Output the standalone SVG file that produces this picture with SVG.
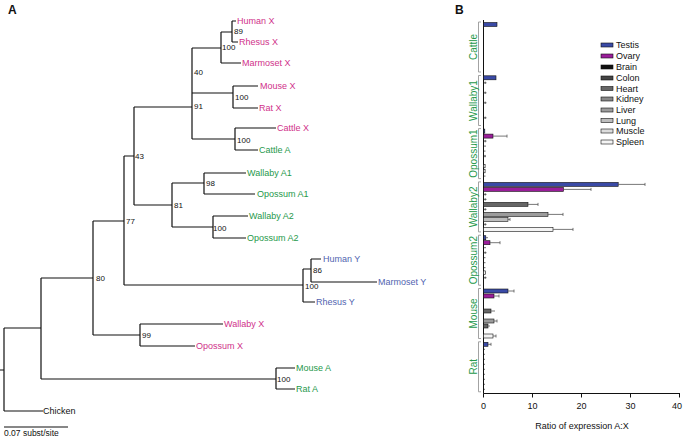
<svg xmlns="http://www.w3.org/2000/svg" width="685" height="438" viewBox="0 0 685 438">
<style>
text{font-family:"Liberation Sans",Arial,sans-serif}
.lbl{font-size:9px;dominant-baseline:central}
.x{fill:#d0318a}.a{fill:#26994b}.y{fill:#5264b0}.k{fill:#111}
.bs{font-size:8px;fill:#111;dominant-baseline:central}
.br{fill:none;stroke:#111;stroke-width:1.2}
.bar{stroke:#111;stroke-width:0.6}
.err{stroke:#555;stroke-width:0.8;fill:none}
.mk{stroke:#444;stroke-width:0.8;fill:none}
.grp{font-size:10px;fill:#26994b;text-anchor:middle;dominant-baseline:central}
.bk{fill:none;stroke:#999;stroke-width:0.9}
.t{fill:#3a4aa6}.o{fill:#9a1d9a}.b{fill:#111}.c{fill:#444}.h{fill:#666}.kd{fill:#888}.lv{fill:#9c9c9c}.lu{fill:#bdbdbd}.mu{fill:#dcdcdc}.sp{fill:#f4f4f4}
.ax{stroke:#111;stroke-width:1;fill:none}
.tk{font-size:9px;fill:#111;text-anchor:middle}
</style>
<text x="8" y="14" font-size="12" font-weight="bold" fill="#111">A</text>
<text x="455" y="14" font-size="12" font-weight="bold" fill="#111">B</text>

<g id="connectors">
<path class="br" d="M0,370H4M4,328V411M4,328H41M4,411H43
M41,278V379M41,278H93M41,379H276
M276,368V389M276,368H295M276,389H295
M93,221V335M93,221H124M93,335H140
M140,324V346M140,324H223M140,346H195
M124,156V285M124,156H134M124,285H303
M303,269V302M303,269H311M303,302H315
M311,259V282M311,259H321M311,282H377
M134,107V205M134,107H192M134,205H172
M172,183V227M172,183H204M172,227H213
M204,173V194M204,173H246M204,194H255
M213,216V238M213,216H248M213,238H246
M192,48V139M192,48H221M192,93H233M192,139H235
M221,32V63M221,32H232M221,63H241
M232,21V42M232,21H236M232,42H238
M233,86V108M233,86H258M233,108H258
M235,128V150M235,128H276M235,150H258"/>
<path class="br" d="M4,427H68"/>
</g>

<g id="tree-labels">
<text class="lbl x" x="237" y="21">Human X</text>
<text class="lbl x" x="239" y="42">Rhesus X</text>
<text class="lbl x" x="242" y="63">Marmoset X</text>
<text class="lbl x" x="260" y="86">Mouse X</text>
<text class="lbl x" x="259" y="108">Rat X</text>
<text class="lbl x" x="277" y="128">Cattle X</text>
<text class="lbl a" x="259" y="150">Cattle A</text>
<text class="lbl a" x="247" y="173">Wallaby A1</text>
<text class="lbl a" x="257" y="194">Opossum A1</text>
<text class="lbl a" x="249" y="216">Wallaby A2</text>
<text class="lbl a" x="247" y="238">Opossum A2</text>
<text class="lbl y" x="323" y="259">Human Y</text>
<text class="lbl y" x="378" y="282">Marmoset Y</text>
<text class="lbl y" x="316" y="302">Rhesus Y</text>
<text class="lbl x" x="224" y="324">Wallaby X</text>
<text class="lbl x" x="196" y="346">Opossum X</text>
<text class="lbl a" x="296" y="368">Mouse A</text>
<text class="lbl a" x="296" y="389">Rat A</text>
<text class="lbl k" x="43" y="411">Chicken</text>
<text x="4" y="436" font-size="8.5" fill="#111">0.07 subst/site</text>
</g>

<g id="bootstrap">
<text class="bs" x="234" y="31">89</text>
<text class="bs" x="222" y="47">100</text>
<text class="bs" x="194" y="72">40</text>
<text class="bs" x="194" y="106">91</text>
<text class="bs" x="235" y="97">100</text>
<text class="bs" x="237" y="140">100</text>
<text class="bs" x="135" y="156">43</text>
<text class="bs" x="206" y="183">98</text>
<text class="bs" x="174" y="205">81</text>
<text class="bs" x="213" y="228">100</text>
<text class="bs" x="126" y="221">77</text>
<text class="bs" x="96" y="278">80</text>
<text class="bs" x="313" y="270">86</text>
<text class="bs" x="305" y="286">100</text>
<text class="bs" x="142" y="335">99</text>
<text class="bs" x="277" y="379">100</text>
</g>

<g id="chart-axes">
<path class="ax" d="M483.5,20V393.5H680"/>
<path class="ax" d="M483.5,393.5v4M532.5,393.5v4M581.5,393.5v4M630.5,393.5v4M679.5,393.5v4"/>
<text class="tk" x="483.5" y="409">0</text>
<text class="tk" x="532.5" y="409">10</text>
<text class="tk" x="581.5" y="409">20</text>
<text class="tk" x="630.5" y="409">30</text>
<text class="tk" x="677" y="409">40</text>
<text class="tk" x="582" y="429">Ratio of expression A:X</text>
</g>

<g id="group-cattle">
<path class="bk" d="M481,22H478.5V72H481"/>
<text class="grp" transform="translate(473,47) rotate(-90)">Cattle</text>
<rect class="bar t" x="483.5" y="22.5" width="13.5" height="4"/>
</g>

<g id="group-wallaby1">
<path class="bk" d="M481,75.5H478.5V125.5H481"/>
<text class="grp" transform="translate(473,100.5) rotate(-90)">Wallaby1</text>
<rect class="bar t" x="483.5" y="75.8" width="12.5" height="4"/>
<path class="mk" d="M484,82.8h2.5M485.2,81.6v2.4M484,92.8h2.5M485.2,91.6v2.4M484,102.8h2.5M485.2,101.6v2.4M484,117.8h2.5M485.2,116.6v2.4"/>
</g>

<g id="group-opossum1">
<path class="bk" d="M481,128.6H478.5V178.6H481"/>
<text class="grp" transform="translate(473,153.6) rotate(-90)">Opossum1</text>
<rect class="bar t" x="483.5" y="129.1" width="1.3" height="4"/>
<rect class="bar o" x="483.5" y="134.1" width="9.5" height="4"/>
<path class="err" d="M493,136.1H507M507,134.6v3"/>
<path class="mk" d="M484,141.1h2.5M485.2,139.9v2.4M484,146.1h2M484,151.1h1.5M484,156.1h2M485,154.9v2.4"/>
<rect class="bar sp" x="483.5" y="164.3" width="1.6" height="3.5"/>
<rect class="bar sp" x="483.5" y="169.3" width="1.6" height="3.5"/>
<path class="mk" d="M484,176.1h1.5"/>
</g>

<g id="group-wallaby2">
<path class="bk" d="M481,181.9H478.5V231.9H481"/>
<text class="grp" transform="translate(473,206.9) rotate(-90)">Wallaby2</text>
<rect class="bar t" x="483.5" y="182.4" width="134.7" height="4"/>
<path class="err" d="M618,184.4H645M645,182.9v3"/>
<rect class="bar o" x="483.5" y="187.4" width="80" height="4"/>
<path class="err" d="M563.5,189.4H591M591,187.9v3"/>
<path class="mk" d="M484,194.4h2.5M485.2,193.2v2.4M484,199.4h2.5M485.2,198.2v2.4"/>
<rect class="bar h" x="483.5" y="202.4" width="44.5" height="4"/>
<path class="err" d="M528,204.4H538M538,202.9v3"/>
<path class="mk" d="M484,209.4h2.5M485.2,208.2v2.4"/>
<rect class="bar lv" x="483.5" y="212.4" width="64.5" height="4"/>
<path class="err" d="M548,214.4H563M563,212.9v3"/>
<rect class="bar lu" x="483.5" y="217.4" width="24.5" height="4"/>
<path class="err" d="M508,219.4H510M510,217.9v3"/>
<path class="mk" d="M484,224.4h2.5M485.2,223.2v2.4"/>
<rect class="bar sp" x="483.5" y="227.4" width="69.5" height="4"/>
<path class="err" d="M553,229.4H573M573,227.9v3"/>
</g>

<g id="group-opossum2">
<path class="bk" d="M481,235.2H478.5V285.2H481"/>
<text class="grp" transform="translate(473,260.2) rotate(-90)">Opossum2</text>
<rect class="bar t" x="483.5" y="235.7" width="2.3" height="4"/>
<path class="err" d="M486,237.7H488"/>
<rect class="bar o" x="483.5" y="240.7" width="6.5" height="4"/>
<path class="err" d="M490,242.7H500M500,241.2v3"/>
<path class="mk" d="M484,247.7h2M484,252.7h2.5M485.2,251.5v2.4M484,257.7h1.5M484,262.7h1.5M484,267.7h1.5"/>
<rect class="bar sp" x="483.5" y="270.9" width="2" height="3.5"/>
<path class="mk" d="M484,277.7h2.5M485.2,276.5v2.4"/>
</g>

<g id="group-mouse">
<path class="bk" d="M481,288.5H478.5V338.5H481"/>
<text class="grp" transform="translate(473,313.5) rotate(-90)">Mouse</text>
<rect class="bar t" x="483.5" y="289" width="24.5" height="4"/>
<path class="err" d="M508,291H514M514,289.5v3"/>
<rect class="bar o" x="483.5" y="294" width="10.5" height="4"/>
<path class="err" d="M494,296H499M499,294.5v3"/>
<rect class="bar h" x="483.5" y="309" width="7.5" height="4"/>
<path class="err" d="M491,311H495"/>
<rect class="bar lv" x="483.5" y="319" width="10.5" height="4"/>
<path class="err" d="M494,321H497M497,319.5v3"/>
<rect class="bar h" x="483.5" y="324" width="4.5" height="4"/>
<path class="err" d="M488,326H490"/>
<rect class="bar sp" x="483.5" y="334" width="9.5" height="4"/>
<path class="err" d="M493,336H496M496,334.5v3"/>
</g>

<g id="group-rat">
<path class="bk" d="M481,341.8H478.5V391.8H481"/>
<text class="grp" transform="translate(473,366.8) rotate(-90)">Rat</text>
<rect class="bar t" x="483.5" y="342.3" width="4.5" height="4"/>
<path class="err" d="M488,344.3H491M491,342.8v3"/>
<path class="mk" d="M484,349.3h1M484,354.3h1M484,359.3h1M484,364.3h1M484,369.3h1M484,374.3h1M484,379.3h1M484,384.3h1M484,389.3h1"/>
</g>

<g id="legend">
<rect class="bar t" x="601" y="43" width="12" height="4"/><text class="lbl k" x="616" y="45">Testis</text>
<rect class="bar o" x="601" y="54" width="12" height="4"/><text class="lbl k" x="616" y="56">Ovary</text>
<rect class="bar b" x="601" y="65" width="12" height="4"/><text class="lbl k" x="616" y="67">Brain</text>
<rect class="bar c" x="601" y="76" width="12" height="4"/><text class="lbl k" x="616" y="78">Colon</text>
<rect class="bar h" x="601" y="86.5" width="12" height="4"/><text class="lbl k" x="616" y="88.5">Heart</text>
<rect class="bar kd" x="601" y="97" width="12" height="4"/><text class="lbl k" x="616" y="99">Kidney</text>
<rect class="bar lv" x="601" y="108" width="12" height="4"/><text class="lbl k" x="616" y="110">Liver</text>
<rect class="bar lu" x="601" y="118.5" width="12" height="4"/><text class="lbl k" x="616" y="120.5">Lung</text>
<rect class="bar mu" x="601" y="129" width="12" height="4"/><text class="lbl k" x="616" y="131">Muscle</text>
<rect class="bar sp" x="601" y="140" width="12" height="4"/><text class="lbl k" x="616" y="142">Spleen</text>
</g>
</svg>
